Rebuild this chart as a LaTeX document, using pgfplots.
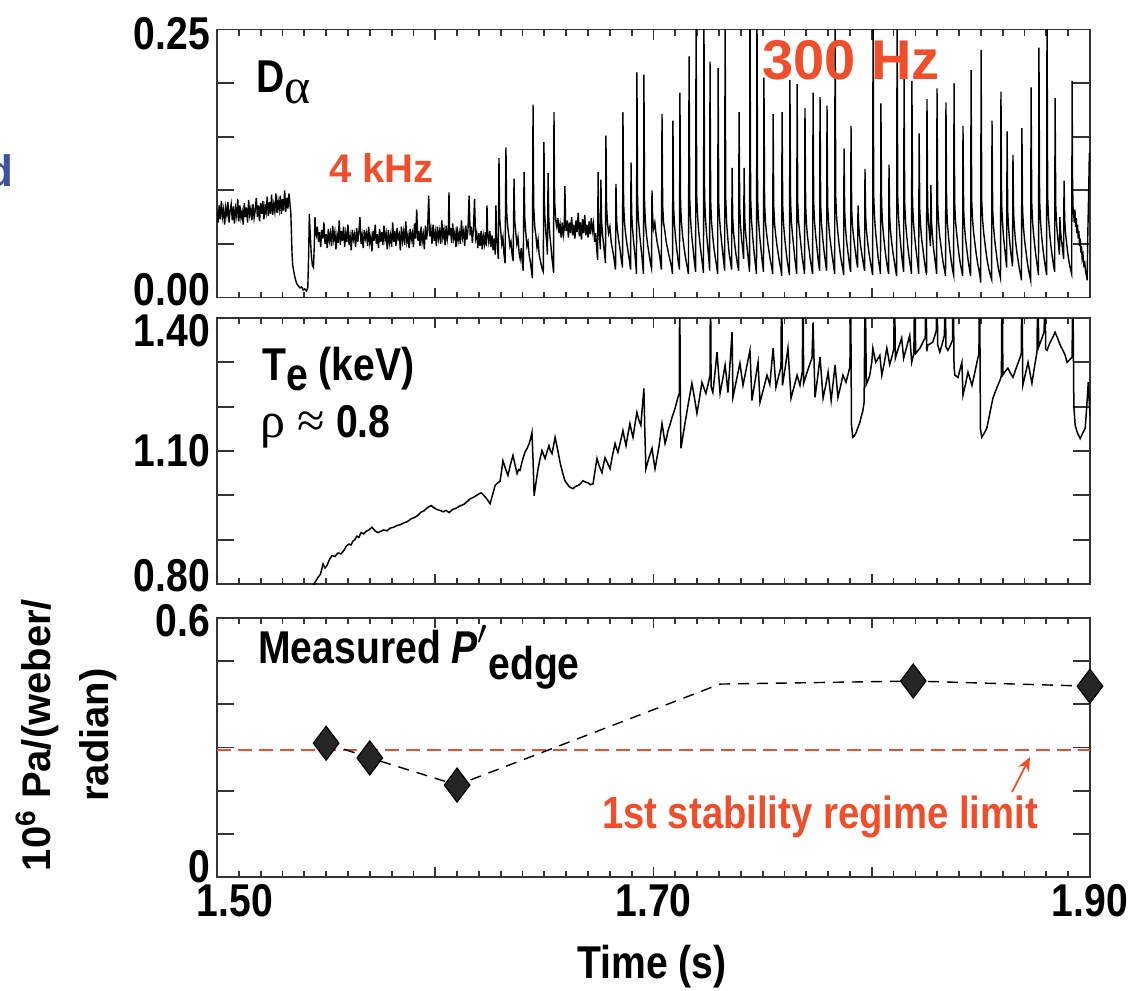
\documentclass[border=0pt]{standalone}
\usepackage{fontspec}
\setmainfont{Liberation Sans}
\newfontfamily\cnd{Liberation Sans}[FakeStretch=0.85]
\newfontfamily\sym{Liberation Serif}
\usepackage{pgfplots}
\pgfplotsset{compat=1.18}
\usepackage{pgfplotstable}
\usetikzlibrary{arrows.meta}
\definecolor{myred}{RGB}{240,78,42}
\definecolor{myblue}{RGB}{62,82,160}
\newcommand{\rl}[2]{\raisebox{#1}[\height][\depth]{#2}}
\pgfplotsset{
  panel/.style={
    scale only axis, width=436.5pt, xmin=1.5, xmax=1.9,
    anchor=south west,
    axis line style={line width=0.9pt, black!80},
    tick style={line width=0.9pt, black!80},
    xtick={1.5,1.6,1.7,1.8,1.9},
    minor x tick num=9,
    tick align=inside,
    xtick pos=both, ytick pos=both,
    xticklabel pos=lower, yticklabel pos=left,
    major x tick style={/pgfplots/major tick length=5pt},
    minor x tick style={/pgfplots/minor tick length=3pt},
    major y tick style={/pgfplots/major tick length=8.5pt},
    ticklabel style={font=\fontsize{23}{24}\selectfont\cnd\bfseries},
  }
}
\begin{document}
\pgfplotstableread{
t v
1.5000 0.080
1.5005 0.070
1.5010 0.086
1.5015 0.073
1.5020 0.090
1.5025 0.075
1.5030 0.082
1.5035 0.068
1.5040 0.084
1.5045 0.077
1.5050 0.089
1.5055 0.070
1.5060 0.081
1.5065 0.087
1.5070 0.072
1.5075 0.085
1.5080 0.069
1.5085 0.083
1.5090 0.076
1.5095 0.092
1.5100 0.071
1.5105 0.086
1.5110 0.074
1.5115 0.080
1.5120 0.068
1.5125 0.088
1.5130 0.075
1.5135 0.084
1.5140 0.070
1.5145 0.091
1.5150 0.077
1.5155 0.083
1.5160 0.072
1.5165 0.087
1.5170 0.074
1.5175 0.081
1.5180 0.093
1.5185 0.075
1.5190 0.086
1.5195 0.071
1.5200 0.088
1.5205 0.078
1.5210 0.090
1.5215 0.073
1.5220 0.085
1.5225 0.079
1.5230 0.094
1.5235 0.076
1.5240 0.089
1.5245 0.078
1.5250 0.096
1.5255 0.077
1.5260 0.087
1.5265 0.080
1.5270 0.097
1.5275 0.079
1.5280 0.090
1.5285 0.082
1.5290 0.095
1.5295 0.078
1.5300 0.092
1.5305 0.081
1.5310 0.100
1.5315 0.080
1.5320 0.093
1.5325 0.083
1.5330 0.097
1.5335 0.086
1.5338 0.080
1.5341 0.060
1.5344 0.040
1.5347 0.030
1.5352 0.024
1.5358 0.018
1.5365 0.013
1.5372 0.011
1.5380 0.009
1.5388 0.010
1.5395 0.007
1.5402 0.008
1.5410 0.006
1.5416 0.009
1.5420 0.040
1.5423 0.078
1.5427 0.060
1.5432 0.040
1.5437 0.030
1.5442 0.028
1.5446 0.050
1.5449 0.075
1.5453 0.060
1.5455 0.058
1.5460 0.066
1.5465 0.052
1.5470 0.061
1.5475 0.047
1.5480 0.063
1.5485 0.055
1.5490 0.070
1.5495 0.050
1.5500 0.059
1.5505 0.046
1.5510 0.064
1.5515 0.053
1.5520 0.060
1.5525 0.048
1.5530 0.067
1.5535 0.054
1.5540 0.061
1.5545 0.045
1.5550 0.058
1.5555 0.051
1.5560 0.072
1.5565 0.049
1.5570 0.062
1.5575 0.053
1.5580 0.066
1.5585 0.047
1.5590 0.060
1.5595 0.052
1.5600 0.068
1.5605 0.049
1.5610 0.057
1.5615 0.044
1.5620 0.063
1.5625 0.054
1.5630 0.059
1.5635 0.047
1.5640 0.065
1.5645 0.052
1.5650 0.061
1.5655 0.075
1.5660 0.050
1.5665 0.058
1.5670 0.046
1.5675 0.063
1.5680 0.055
1.5685 0.060
1.5690 0.048
1.5695 0.066
1.5700 0.051
1.5705 0.057
1.5710 0.043
1.5715 0.062
1.5720 0.053
1.5725 0.068
1.5730 0.050
1.5735 0.059
1.5740 0.046
1.5745 0.064
1.5750 0.052
1.5755 0.061
1.5760 0.049
1.5765 0.067
1.5770 0.054
1.5775 0.060
1.5780 0.045
1.5785 0.063
1.5790 0.051
1.5795 0.058
1.5800 0.047
1.5805 0.070
1.5810 0.052
1.5815 0.062
1.5820 0.048
1.5825 0.065
1.5830 0.055
1.5835 0.059
1.5840 0.044
1.5845 0.066
1.5850 0.053
1.5855 0.061
1.5860 0.049
1.5865 0.071
1.5870 0.052
1.5875 0.058
1.5880 0.046
1.5885 0.064
1.5890 0.054
1.5895 0.060
1.5900 0.047
1.5905 0.069
1.5910 0.055
1.5915 0.082
1.5920 0.053
1.5925 0.062
1.5930 0.048
1.5935 0.066
1.5940 0.052
1.5945 0.059
1.5950 0.045
1.5955 0.067
1.5960 0.054
1.5965 0.063
1.5970 0.095
1.5975 0.057
1.5980 0.064
1.5985 0.050
1.5990 0.068
1.5995 0.053
1.6000 0.061
1.6005 0.048
1.6010 0.066
1.6015 0.055
1.6020 0.062
1.6025 0.050
1.6030 0.072
1.6035 0.056
1.6040 0.063
1.6045 0.049
1.6050 0.067
1.6055 0.054
1.6060 0.062
1.6063 0.098
1.6066 0.058
1.6070 0.065
1.6075 0.051
1.6080 0.069
1.6085 0.055
1.6090 0.061
1.6095 0.047
1.6100 0.066
1.6105 0.053
1.6110 0.060
1.6115 0.050
1.6120 0.072
1.6125 0.056
1.6130 0.062
1.6135 0.048
1.6140 0.067
1.6145 0.054
1.6150 0.063
1.6155 0.095
1.6160 0.058
1.6165 0.066
1.6170 0.051
1.6175 0.064
1.6180 0.092
1.6185 0.055
1.6190 0.060
1.6195 0.046
1.6200 0.060
1.6205 0.048
1.6210 0.062
1.6215 0.045
1.6220 0.058
1.6225 0.050
1.6230 0.061
1.6234 0.048
1.6237 0.086
1.6240 0.060
1.6245 0.052
1.6250 0.062
1.6255 0.047
1.6260 0.058
1.6265 0.044
1.6270 0.055
1.6275 0.040
1.6278 0.086
1.6281 0.058
1.6285 0.048
1.6289 0.036
1.6292 0.130
1.6295 0.075
1.6300 0.062
1.6305 0.050
1.6310 0.056
1.6315 0.040
1.6320 0.032
1.6324 0.140
1.6327 0.080
1.6332 0.066
1.6337 0.058
1.6342 0.048
1.6347 0.052
1.6352 0.040
1.6357 0.034
1.6361 0.111
1.6364 0.072
1.6369 0.060
1.6374 0.050
1.6379 0.056
1.6384 0.042
1.6389 0.036
1.6394 0.046
1.6399 0.032
1.6403 0.025
1.6407 0.117
1.6410 0.075
1.6415 0.060
1.6420 0.048
1.6425 0.052
1.6430 0.040
1.6435 0.034
1.6440 0.026
1.6445 0.018
1.6448 0.180
1.6451 0.085
1.6456 0.066
1.6461 0.058
1.6466 0.047
1.6471 0.054
1.6476 0.040
1.6481 0.035
1.6486 0.030
1.6491 0.026
1.6495 0.024
1.6498 0.145
1.6501 0.080
1.6506 0.062
1.6511 0.050
1.6514 0.040
1.6517 0.116
1.6520 0.075
1.6525 0.058
1.6530 0.048
1.6535 0.036
1.6540 0.028
1.6542 0.023
1.6544 0.173
1.6547 0.090
1.6552 0.072
1.6557 0.066
1.6562 0.074
1.6567 0.060
1.6572 0.068
1.6577 0.056
1.6582 0.070
1.6587 0.058
1.6591 0.064
1.6594 0.104
1.6597 0.070
1.6600 0.062
1.6605 0.072
1.6610 0.056
1.6615 0.070
1.6620 0.060
1.6625 0.075
1.6630 0.058
1.6635 0.068
1.6640 0.055
1.6645 0.072
1.6650 0.061
1.6655 0.079
1.6660 0.057
1.6665 0.070
1.6670 0.054
1.6675 0.073
1.6680 0.060
1.6685 0.077
1.6690 0.058
1.6695 0.068
1.6700 0.056
1.6705 0.071
1.6710 0.059
1.6715 0.074
1.6720 0.062
1.6725 0.069
1.6730 0.052
1.6735 0.060
1.6740 0.045
1.6744 0.035
1.6746 0.117
1.6749 0.070
1.6753 0.055
1.6757 0.045
1.6759 0.110
1.6762 0.072
1.6766 0.060
1.6771 0.050
1.6776 0.040
1.6780 0.032
1.6782 0.151
1.6785 0.085
1.6789 0.070
1.6794 0.060
1.6800 0.066
1.6806 0.052
1.6812 0.045
1.6818 0.038
1.6823 0.030
1.6826 0.026
1.6828 0.106
1.6831 0.072
1.6835 0.062
1.6840 0.054
1.6846 0.046
1.6852 0.036
1.6858 0.028
1.6860 0.173
1.6863 0.088
1.6867 0.070
1.6872 0.060
1.6878 0.050
1.6884 0.042
1.6890 0.034
1.6895 0.026
1.6897 0.126
1.6900 0.078
1.6904 0.064
1.6909 0.052
1.6915 0.040
1.6920 0.028
1.6922 0.022
1.6924 0.210
1.6927 0.090
1.6931 0.072
1.6936 0.060
1.6942 0.048
1.6948 0.036
1.6954 0.022
1.6956 0.208
1.6959 0.088
1.6963 0.070
1.6968 0.058
1.6974 0.048
1.6980 0.040
1.6986 0.032
1.6991 0.027
1.6993 0.100
1.6996 0.075
1.7000 0.064
1.7006 0.070
1.7012 0.058
1.7018 0.050
1.7024 0.044
1.7030 0.036
1.7036 0.026
1.7039 0.171
1.7042 0.086
1.7046 0.070
1.7052 0.062
1.7058 0.052
1.7064 0.046
1.7070 0.040
1.7077 0.034
1.7083 0.028
1.7087 0.022
1.7089 0.165
1.7092 0.085
1.7096 0.068
1.7101 0.056
1.7107 0.044
1.7113 0.034
1.7119 0.026
1.7121 0.191
1.7124 0.088
1.7128 0.070
1.7133 0.058
1.7139 0.048
1.7146 0.038
1.7153 0.030
1.7160 0.022
1.7163 0.225
1.7166 0.092
1.7170 0.072
1.7175 0.058
1.7181 0.046
1.7187 0.034
1.7193 0.024
1.7195 0.270
1.7198 0.095
1.7202 0.076
1.7207 0.062
1.7213 0.050
1.7220 0.038
1.7226 0.028
1.7229 0.023
1.7231 0.270
1.7234 0.094
1.7238 0.074
1.7243 0.060
1.7249 0.046
1.7255 0.032
1.7257 0.025
1.7259 0.220
1.7262 0.090
1.7266 0.070
1.7271 0.058
1.7277 0.046
1.7284 0.036
1.7290 0.028
1.7294 0.022
1.7296 0.214
1.7299 0.088
1.7303 0.072
1.7308 0.060
1.7314 0.048
1.7320 0.036
1.7326 0.025
1.7328 0.270
1.7331 0.092
1.7335 0.070
1.7340 0.056
1.7346 0.042
1.7352 0.034
1.7358 0.026
1.7360 0.121
1.7363 0.074
1.7367 0.060
1.7372 0.050
1.7378 0.040
1.7384 0.032
1.7390 0.025
1.7392 0.173
1.7395 0.084
1.7399 0.066
1.7404 0.054
1.7409 0.044
1.7413 0.036
1.7415 0.121
1.7418 0.074
1.7422 0.060
1.7427 0.050
1.7432 0.040
1.7437 0.030
1.7440 0.024
1.7442 0.270
1.7445 0.094
1.7449 0.072
1.7454 0.058
1.7460 0.044
1.7466 0.032
1.7472 0.022
1.7474 0.270
1.7477 0.092
1.7481 0.072
1.7486 0.058
1.7492 0.046
1.7498 0.034
1.7504 0.024
1.7506 0.205
1.7509 0.088
1.7513 0.070
1.7518 0.060
1.7524 0.050
1.7530 0.042
1.7536 0.034
1.7542 0.028
1.7546 0.022
1.7548 0.171
1.7551 0.085
1.7555 0.068
1.7560 0.058
1.7566 0.048
1.7572 0.040
1.7578 0.032
1.7584 0.026
1.7587 0.020
1.7589 0.173
1.7592 0.086
1.7596 0.068
1.7601 0.056
1.7607 0.044
1.7613 0.034
1.7619 0.026
1.7623 0.021
1.7625 0.203
1.7628 0.090
1.7632 0.070
1.7637 0.058
1.7643 0.046
1.7649 0.034
1.7654 0.026
1.7656 0.022
1.7658 0.199
1.7661 0.088
1.7665 0.070
1.7670 0.060
1.7676 0.048
1.7682 0.036
1.7688 0.028
1.7692 0.022
1.7694 0.177
1.7697 0.086
1.7701 0.068
1.7706 0.056
1.7712 0.046
1.7718 0.036
1.7724 0.028
1.7729 0.022
1.7731 0.191
1.7734 0.088
1.7738 0.070
1.7743 0.058
1.7749 0.046
1.7755 0.034
1.7761 0.025
1.7763 0.187
1.7766 0.086
1.7770 0.068
1.7775 0.056
1.7781 0.044
1.7787 0.034
1.7793 0.025
1.7795 0.179
1.7798 0.086
1.7802 0.070
1.7807 0.058
1.7813 0.048
1.7819 0.038
1.7825 0.030
1.7830 0.022
1.7832 0.270
1.7835 0.094
1.7839 0.074
1.7844 0.062
1.7850 0.050
1.7856 0.040
1.7862 0.032
1.7868 0.026
1.7871 0.021
1.7873 0.139
1.7876 0.080
1.7880 0.064
1.7885 0.052
1.7891 0.042
1.7897 0.032
1.7903 0.024
1.7905 0.160
1.7908 0.082
1.7912 0.066
1.7917 0.056
1.7923 0.046
1.7929 0.036
1.7935 0.028
1.7937 0.086
1.7940 0.068
1.7944 0.058
1.7949 0.048
1.7955 0.040
1.7961 0.032
1.7967 0.025
1.7969 0.120
1.7972 0.076
1.7976 0.062
1.7981 0.052
1.7987 0.042
1.7993 0.034
1.7999 0.027
1.8004 0.021
1.8006 0.270
1.8009 0.094
1.8013 0.074
1.8018 0.060
1.8024 0.048
1.8030 0.036
1.8036 0.028
1.8040 0.022
1.8042 0.181
1.8045 0.088
1.8049 0.070
1.8054 0.058
1.8060 0.046
1.8066 0.036
1.8072 0.028
1.8077 0.022
1.8079 0.124
1.8082 0.076
1.8086 0.062
1.8091 0.052
1.8097 0.042
1.8103 0.034
1.8109 0.026
1.8114 0.020
1.8116 0.270
1.8119 0.094
1.8123 0.074
1.8128 0.060
1.8134 0.046
1.8140 0.034
1.8146 0.024
1.8148 0.205
1.8151 0.088
1.8155 0.070
1.8160 0.058
1.8166 0.046
1.8172 0.036
1.8178 0.028
1.8182 0.022
1.8184 0.202
1.8187 0.088
1.8191 0.070
1.8196 0.058
1.8202 0.046
1.8208 0.036
1.8213 0.027
1.8215 0.022
1.8217 0.153
1.8220 0.082
1.8224 0.066
1.8229 0.054
1.8235 0.044
1.8241 0.034
1.8247 0.026
1.8251 0.021
1.8253 0.185
1.8256 0.086
1.8260 0.070
1.8265 0.058
1.8269 0.048
1.8271 0.105
1.8274 0.070
1.8278 0.058
1.8283 0.046
1.8289 0.036
1.8294 0.028
1.8297 0.022
1.8299 0.195
1.8302 0.088
1.8306 0.070
1.8311 0.058
1.8317 0.048
1.8323 0.038
1.8329 0.030
1.8335 0.024
1.8338 0.020
1.8340 0.182
1.8343 0.086
1.8347 0.068
1.8352 0.056
1.8358 0.044
1.8364 0.034
1.8370 0.026
1.8375 0.021
1.8377 0.200
1.8380 0.088
1.8384 0.070
1.8389 0.060
1.8395 0.048
1.8401 0.038
1.8407 0.030
1.8413 0.024
1.8416 0.020
1.8418 0.160
1.8421 0.082
1.8425 0.066
1.8430 0.054
1.8436 0.044
1.8442 0.034
1.8448 0.026
1.8453 0.020
1.8455 0.212
1.8458 0.090
1.8462 0.072
1.8467 0.060
1.8473 0.050
1.8479 0.040
1.8485 0.032
1.8491 0.026
1.8496 0.020
1.8499 0.014
1.8501 0.231
1.8504 0.090
1.8508 0.072
1.8513 0.060
1.8519 0.050
1.8525 0.040
1.8531 0.032
1.8537 0.026
1.8543 0.021
1.8549 0.017
1.8551 0.165
1.8554 0.082
1.8558 0.066
1.8563 0.054
1.8569 0.044
1.8575 0.034
1.8581 0.026
1.8587 0.021
1.8590 0.018
1.8592 0.192
1.8595 0.088
1.8599 0.070
1.8604 0.056
1.8610 0.044
1.8615 0.034
1.8618 0.028
1.8620 0.155
1.8623 0.080
1.8627 0.064
1.8632 0.052
1.8637 0.042
1.8642 0.034
1.8645 0.029
1.8647 0.133
1.8650 0.078
1.8654 0.064
1.8659 0.052
1.8665 0.042
1.8671 0.034
1.8677 0.026
1.8683 0.020
1.8686 0.016
1.8688 0.158
1.8691 0.082
1.8695 0.066
1.8700 0.054
1.8706 0.044
1.8712 0.034
1.8718 0.026
1.8724 0.020
1.8728 0.016
1.8730 0.196
1.8733 0.088
1.8737 0.070
1.8742 0.058
1.8748 0.046
1.8754 0.036
1.8760 0.027
1.8764 0.021
1.8766 0.233
1.8769 0.092
1.8773 0.072
1.8778 0.058
1.8784 0.046
1.8790 0.036
1.8796 0.028
1.8801 0.021
1.8803 0.270
1.8806 0.094
1.8810 0.074
1.8815 0.060
1.8821 0.048
1.8827 0.038
1.8833 0.030
1.8838 0.024
1.8840 0.186
1.8843 0.086
1.8847 0.068
1.8852 0.056
1.8857 0.046
1.8860 0.040
1.8862 0.075
1.8865 0.062
1.8870 0.052
1.8875 0.044
1.8879 0.036
1.8881 0.109
1.8884 0.072
1.8888 0.060
1.8893 0.050
1.8899 0.040
1.8905 0.032
1.8911 0.026
1.8916 0.022
1.8918 0.202
1.8920 0.110
1.8922 0.085
1.8925 0.078
1.8928 0.070
1.8931 0.082
1.8934 0.066
1.8937 0.074
1.8940 0.060
1.8943 0.068
1.8946 0.055
1.8949 0.062
1.8952 0.048
1.8955 0.055
1.8958 0.042
1.8961 0.048
1.8964 0.036
1.8968 0.040
1.8972 0.030
1.8976 0.032
1.8980 0.024
1.8984 0.020
1.8987 0.016
1.8990 0.060
1.8994 0.100
1.8997 0.135
1.9000 0.120
}\dalpha
\pgfplotstableread{
t v
1.5430 0.770
1.5444 0.800
1.5463 0.815
1.5474 0.822
1.5486 0.845
1.5495 0.836
1.5504 0.842
1.5515 0.855
1.5527 0.864
1.5540 0.862
1.5554 0.870
1.5568 0.868
1.5582 0.876
1.5593 0.886
1.5605 0.890
1.5614 0.888
1.5623 0.897
1.5632 0.900
1.5641 0.908
1.5650 0.905
1.5660 0.916
1.5672 0.913
1.5683 0.919
1.5696 0.922
1.5710 0.928
1.5724 0.920
1.5738 0.916
1.5751 0.919
1.5765 0.922
1.5779 0.920
1.5793 0.926
1.5809 0.928
1.5825 0.932
1.5841 0.934
1.5857 0.938
1.5873 0.941
1.5889 0.947
1.5905 0.950
1.5921 0.955
1.5934 0.962
1.5948 0.965
1.5964 0.972
1.5981 0.977
1.5994 0.972
1.6008 0.968
1.6022 0.966
1.6036 0.963
1.6050 0.966
1.6063 0.961
1.6079 0.968
1.6095 0.971
1.6113 0.976
1.6132 0.980
1.6146 0.986
1.6159 0.992
1.6173 0.995
1.6187 0.999
1.6199 1.003
1.6210 1.006
1.6222 1.000
1.6233 0.994
1.6242 0.988
1.6251 0.981
1.6262 1.000
1.6274 1.022
1.6286 1.028
1.6297 1.032
1.6304 1.055
1.6310 1.078
1.6322 1.060
1.6333 1.045
1.6345 1.070
1.6356 1.090
1.6366 1.068
1.6375 1.049
1.6382 1.058
1.6388 1.056
1.6400 1.080
1.6411 1.097
1.6420 1.105
1.6430 1.116
1.6437 1.128
1.6443 1.142
1.6448 1.080
1.6453 0.999
1.6462 1.030
1.6471 1.060
1.6480 1.082
1.6489 1.101
1.6496 1.092
1.6503 1.083
1.6512 1.098
1.6521 1.112
1.6528 1.100
1.6535 1.094
1.6542 1.112
1.6549 1.131
1.6560 1.105
1.6572 1.074
1.6583 1.052
1.6594 1.033
1.6604 1.026
1.6613 1.020
1.6622 1.017
1.6631 1.015
1.6642 1.020
1.6654 1.022
1.6665 1.026
1.6677 1.033
1.6688 1.030
1.6700 1.028
1.6711 1.024
1.6723 1.026
1.6732 1.055
1.6741 1.083
1.6752 1.065
1.6764 1.051
1.6771 1.070
1.6778 1.085
1.6790 1.072
1.6801 1.060
1.6812 1.090
1.6824 1.117
1.6830 1.106
1.6837 1.097
1.6849 1.122
1.6860 1.146
1.6867 1.128
1.6874 1.112
1.6883 1.138
1.6892 1.162
1.6899 1.145
1.6906 1.131
1.6915 1.160
1.6924 1.187
1.6933 1.170
1.6942 1.158
1.6949 1.200
1.6956 1.241
1.6960 1.150
1.6965 1.060
1.6972 1.072
1.6979 1.085
1.6986 1.095
1.6993 1.106
1.7000 1.082
1.7007 1.060
1.7016 1.085
1.7025 1.110
1.7032 1.136
1.7039 1.162
1.7046 1.140
1.7053 1.117
1.7060 1.130
1.7066 1.145
1.7076 1.160
1.7085 1.176
1.7092 1.186
1.7098 1.195
1.7105 1.208
1.7112 1.221
1.7118 1.230
1.7120 1.500
1.7123 1.200
1.7126 1.106
1.7133 1.128
1.7140 1.150
1.7149 1.176
1.7158 1.203
1.7167 1.228
1.7176 1.253
1.7188 1.219
1.7199 1.185
1.7211 1.220
1.7222 1.255
1.7231 1.242
1.7240 1.230
1.7250 1.250
1.7259 1.271
1.7261 1.500
1.7264 1.245
1.7272 1.232
1.7282 1.278
1.7291 1.323
1.7298 1.276
1.7305 1.230
1.7317 1.262
1.7328 1.294
1.7335 1.263
1.7341 1.232
1.7351 1.300
1.7360 1.368
1.7364 1.221
1.7380 1.260
1.7396 1.298
1.7403 1.273
1.7410 1.248
1.7426 1.288
1.7442 1.327
1.7451 1.214
1.7465 1.257
1.7479 1.300
1.7488 1.210
1.7504 1.240
1.7520 1.271
1.7533 1.250
1.7548 1.332
1.7561 1.244
1.7573 1.268
1.7584 1.290
1.7587 1.500
1.7591 1.248
1.7604 1.290
1.7616 1.332
1.7630 1.219
1.7644 1.245
1.7658 1.271
1.7671 1.248
1.7677 1.265
1.7682 1.280
1.7685 1.500
1.7688 1.253
1.7700 1.272
1.7712 1.290
1.7726 1.309
1.7731 1.390
1.7740 1.221
1.7752 1.266
1.7763 1.312
1.7777 1.219
1.7789 1.248
1.7800 1.278
1.7814 1.214
1.7823 1.254
1.7832 1.294
1.7845 1.221
1.7857 1.246
1.7868 1.271
1.7882 1.255
1.7891 1.272
1.7900 1.290
1.7903 1.500
1.7907 1.160
1.7913 1.131
1.7920 1.134
1.7927 1.140
1.7936 1.152
1.7946 1.165
1.7952 1.178
1.7959 1.190
1.7965 1.210
1.7970 1.500
1.7975 1.250
1.7983 1.260
1.7991 1.271
1.8000 1.300
1.8005 1.332
1.8012 1.315
1.8018 1.300
1.8028 1.308
1.8037 1.316
1.8046 1.271
1.8058 1.300
1.8069 1.332
1.8076 1.313
1.8082 1.295
1.8092 1.312
1.8101 1.330
1.8104 1.500
1.8108 1.309
1.8122 1.332
1.8137 1.355
1.8146 1.309
1.8160 1.335
1.8174 1.361
1.8183 1.300
1.8193 1.320
1.8197 1.500
1.8201 1.320
1.8211 1.326
1.8221 1.332
1.8230 1.341
1.8239 1.350
1.8245 1.355
1.8248 1.500
1.8252 1.325
1.8257 1.339
1.8268 1.342
1.8279 1.345
1.8289 1.360
1.8296 1.373
1.8299 1.500
1.8302 1.340
1.8312 1.323
1.8323 1.342
1.8333 1.361
1.8336 1.500
1.8340 1.335
1.8349 1.327
1.8360 1.338
1.8370 1.350
1.8373 1.500
1.8377 1.290
1.8381 1.271
1.8395 1.266
1.8404 1.283
1.8413 1.300
1.8418 1.226
1.8430 1.252
1.8441 1.278
1.8450 1.263
1.8459 1.248
1.8471 1.274
1.8482 1.300
1.8491 1.320
1.8494 1.500
1.8498 1.150
1.8504 1.131
1.8515 1.140
1.8527 1.151
1.8541 1.185
1.8555 1.219
1.8571 1.240
1.8588 1.260
1.8594 1.270
1.8597 1.500
1.8601 1.272
1.8612 1.280
1.8624 1.287
1.8635 1.276
1.8647 1.266
1.8658 1.282
1.8670 1.298
1.8679 1.310
1.8685 1.320
1.8688 1.500
1.8692 1.248
1.8704 1.274
1.8716 1.300
1.8725 1.276
1.8734 1.253
1.8745 1.288
1.8757 1.323
1.8761 1.500
1.8765 1.335
1.8780 1.355
1.8790 1.370
1.8793 1.500
1.8797 1.330
1.8803 1.327
1.8810 1.336
1.8817 1.345
1.8829 1.356
1.8840 1.368
1.8852 1.354
1.8863 1.339
1.8875 1.328
1.8886 1.316
1.8895 1.300
1.8907 1.306
1.8918 1.312
1.8921 1.500
1.8926 1.200
1.8932 1.158
1.8943 1.140
1.8955 1.128
1.8966 1.140
1.8978 1.151
1.8985 1.200
1.8992 1.255
1.9000 1.180
}\tedata
\begin{tikzpicture}
\path[use as bounding box] (0pt,0pt) rectangle (564pt,-495pt);
% top panel: D alpha
\begin{axis}[panel, at={(108.5pt,-148.75pt)}, height=134pt,
  ymin=0, ymax=0.25, ytick={0,0.05,0.1,0.15,0.2,0.25},
  yticklabels={\rl{4pt}{0.00},,,,,\rl{-2pt}{0.25}}, xticklabels={}]
\addplot[black, line width=0.7pt] table[x=t,y=v] {\dalpha};
\end{axis}
% middle panel: Te
\begin{axis}[panel, at={(108.5pt,-292pt)}, height=133pt,
  ymin=0.8, ymax=1.4, ytick={0.8,0.9,1.0,1.1,1.2,1.3,1.4},
  yticklabels={\rl{4pt}{0.80},,,1.10,,,\rl{-6.5pt}{1.40}}, xticklabels={}]
\addplot[black, line width=0.75pt] table[x=t,y=v] {\tedata};
\end{axis}
% bottom panel: P'edge
\begin{axis}[panel, at={(108.5pt,-438.5pt)}, height=129.5pt,
  ymin=0, ymax=0.6, ytick={0,0.1,0.2,0.3,0.4,0.5,0.6},
  yticklabels={\rl{5pt}{0},,,,,,\rl{-1.5pt}{0.6}},
  xticklabels={\hspace*{18pt}1.50,,1.70,,1.90}, clip=false]
\addplot[myred, line width=0.8pt, dash pattern=on 7pt off 3.5pt] coordinates {(1.5,0.294) (1.9,0.294)};
\addplot[black, line width=0.7pt, dash pattern=on 5.5pt off 4pt] coordinates {(1.550,0.310) (1.570,0.276) (1.610,0.213) (1.7305,0.447) (1.819,0.454) (1.90,0.442)};
\addplot[only marks, mark=diamond*, mark size=8.5pt, mark options={fill=black!85, draw=black, line width=0.6pt}] coordinates {(1.550,0.310) (1.570,0.276) (1.610,0.213) (1.819,0.454) (1.90,0.442)};
\draw[myred, line width=0.9pt, -{Stealth[length=7pt,width=6pt]}] (axis cs:1.8643,0.197) -- (axis cs:1.8725,0.278);
\end{axis}
\begin{scope}[x=0.5pt,y=-0.5pt]
\node[anchor=base east, inner sep=0, text=myblue, font=\fontsize{22}{24}\selectfont\bfseries] at (14,186) {d};
\node[anchor=base west, inner sep=0, font=\fontsize{23}{24}\selectfont\cnd\bfseries] at (256,92) {D\raisebox{-0.24em}{\sym\mdseries\fontsize{25}{26}\selectfont α}};
\node[anchor=base west, inner sep=0, text=myred, font=\fontsize{20}{22}\selectfont\bfseries] at (329,182) {4 kHz};
\node[anchor=base west, inner sep=0, text=myred, font=\fontsize{28}{30}\selectfont\bfseries] at (762,80) {300 Hz};
\node[anchor=base west, inner sep=0, font=\fontsize{23}{24}\selectfont\cnd\bfseries] at (262,380) {T\raisebox{-0.22em}{e} (keV)};
\node[anchor=base west, inner sep=0, font=\fontsize{23}{24}\selectfont\cnd\bfseries] at (260,437) {{\sym\mdseries\fontsize{25}{26}\selectfont ρ ≈} 0.8};
\node[anchor=base west, inner sep=0, font=\fontsize{23}{24}\selectfont\cnd\bfseries] at (258,663) {Measured \textit{P}$'$\raisebox{-0.35em}{edge}};
\node[anchor=base, inner sep=0, text=myred, font=\fontsize{22.5}{24}\selectfont\cnd\bfseries] at (820,828) {1st stability regime limit};
\node[anchor=base, inner sep=0, font=\fontsize{23}{24}\selectfont\cnd\bfseries] at (652,978) {Time (s)};
\node[rotate=90, align=center, inner sep=0, font=\fontsize{20}{29}\selectfont\bfseries] at (66,735) {10\textsuperscript{6} Pa/(weber/\\radian)};
\end{scope}
\end{tikzpicture}
\end{document}
